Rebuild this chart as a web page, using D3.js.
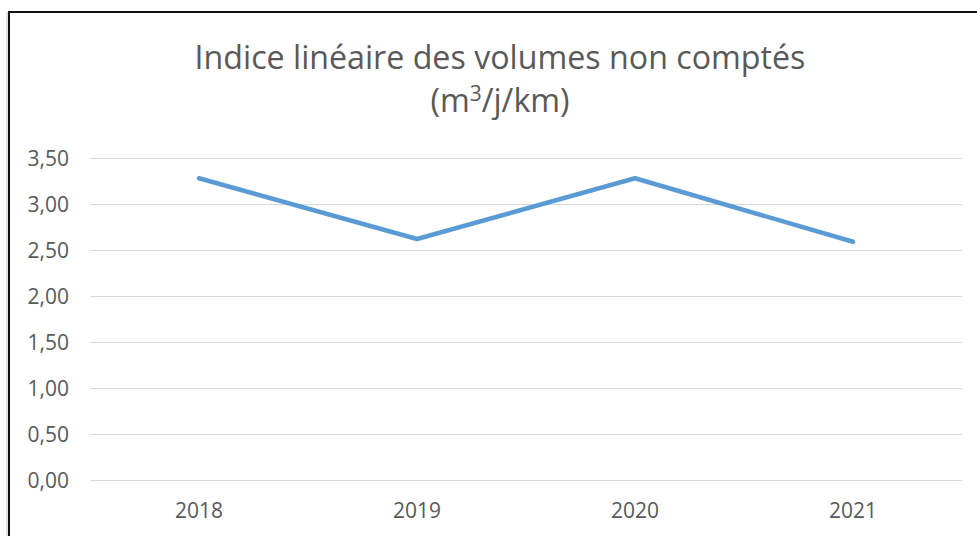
<!DOCTYPE html>
<html>
<head>
<meta charset="utf-8">
<script src="https://cdn.jsdelivr.net/npm/d3@7"></script>
<style>
  body { margin: 0; background: #fff; }
  svg { display: block; }
  text { font-family: "Open Sans", "Liberation Sans", sans-serif; fill: #595959; }
</style>
</head>
<body>
<div id="app"></div>
<script>
const years = ["2018", "2019", "2020", "2021"];
const values = [3.28, 2.62, 3.28, 2.59];
const yTicks = [0, 0.5, 1, 1.5, 2, 2.5, 3, 3.5];
const titleLines = ["Indice linéaire des volumes non comptés"];

const screen = { width: 977, height: 536 };
const plot = { left: 90, right: 962, top: 158, bottom: 480 };

const fr = d3.formatLocale({ decimal: ",", thousands: " ", grouping: [3], currency: ["", " €"] });
const fmt = fr.format(".2f");

const svg = d3.select("#app")
  .append("svg")
  .attr("width", screen.width)
  .attr("height", screen.height);

// frame (cut off on the right and at the bottom, like the screenshot)
svg.append("line")
  .attr("x1", 7).attr("x2", 7).attr("y1", 12).attr("y2", screen.height)
  .attr("stroke", "#c8c8c8").attr("stroke-width", 1);
svg.append("rect")
  .attr("x", 9).attr("y", 12)
  .attr("width", screen.width + 20).attr("height", screen.height + 20)
  .attr("fill", "none")
  .attr("stroke", "#111")
  .attr("stroke-width", 2);

const x = d3.scaleBand()
  .domain(years)
  .range([plot.left, plot.right]);

const y = d3.scaleLinear()
  .domain([0, 3.5])
  .range([plot.bottom, plot.top]);

// gridlines + y labels
const yAxis = svg.append("g")
  .attr("transform", `translate(${plot.left},0)`)
  .call(d3.axisLeft(y).tickValues(yTicks).tickFormat(fmt).tickSize(-(plot.right - plot.left)).tickPadding(21));

yAxis.select(".domain").remove();
yAxis.selectAll(".tick line").attr("stroke", "#d9d9d9").attr("stroke-width", 1);
yAxis.selectAll(".tick text")
  .attr("font-size", 21)
  .attr("dy", "0.35em")
  .style("fill", "#595959");

// x labels
const xAxis = svg.append("g")
  .attr("transform", `translate(0,${plot.bottom})`)
  .call(d3.axisBottom(x).tickSize(0).tickPadding(0));

xAxis.select(".domain").remove();
xAxis.selectAll(".tick text")
  .attr("font-size", 21)
  .attr("y", 38)
  .attr("dy", 0)
  .style("fill", "#595959");

// series line
const line = d3.line()
  .x((d, i) => x(years[i]) + x.bandwidth() / 2)
  .y((d) => y(d));

svg.append("path")
  .datum(values)
  .attr("d", line)
  .attr("fill", "none")
  .attr("stroke", "#5b9bd5")
  .attr("stroke-width", 4.5)
  .attr("stroke-linejoin", "round")
  .attr("stroke-linecap", "round");

// title
const title = svg.append("text")
  .attr("x", 500)
  .attr("y", 69)
  .attr("text-anchor", "middle")
  .attr("font-size", 30)
  .text(titleLines[0]);

// fit title width to the reference (~611px)
const w = title.node().getComputedTextLength();
const fs = 30 * 611 / w;
title.attr("font-size", fs);

const sub = svg.append("text")
  .attr("x", 500)
  .attr("y", 112)
  .attr("text-anchor", "middle")
  .attr("font-size", fs);
sub.append("tspan").text("(m");
sub.append("tspan").attr("dy", -11).attr("font-size", fs * 0.65).text("3");
sub.append("tspan").attr("dy", 11).text("/j/km)");
</script>
</body>
</html>
